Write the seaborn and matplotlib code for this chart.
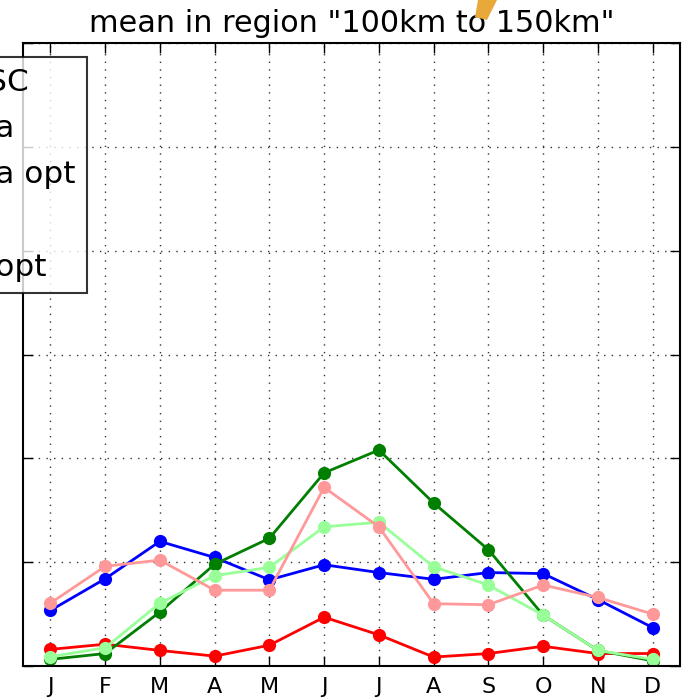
import matplotlib
matplotlib.use("Agg")
import matplotlib.pyplot as plt
from matplotlib.patches import Polygon
import numpy as np
import pandas as pd
import seaborn as sns

# month initials on the x axis
months = ["J", "F", "M", "A", "M", "J", "J", "A", "S", "O", "N", "D"]

# series (arbitrary units)
esc = [0.535, 0.84, 1.20, 1.045, 0.83, 0.975, 0.90, 0.835, 0.90, 0.89, 0.64, 0.37]
run_a = [0.16, 0.21, 0.15, 0.095, 0.20, 0.47, 0.30, 0.086, 0.12, 0.19, 0.12, 0.12]
run_a_opt = [0.064, 0.12, 0.52, 0.98, 1.23, 1.86, 2.08, 1.57, 1.12, 0.49, 0.15, 0.05]
run = [0.09, 0.175, 0.605, 0.87, 0.95, 1.34, 1.385, 0.955, 0.78, 0.49, 0.15, 0.064]
run_opt = [0.605, 0.96, 1.02, 0.73, 0.73, 1.72, 1.34, 0.60, 0.59, 0.78, 0.66, 0.50]

labels = ["H-ESC", "run a", "run a opt", "run", "run opt"]
colors = ["#0000ff", "#ff0000", "#007f00", "#99ff99", "#ff9999"]

frames = []
for lab, vals in zip(labels, [esc, run_a, run_a_opt, run, run_opt]):
    frames.append(pd.DataFrame({"month": np.arange(len(months)), "value": vals, "series": lab}))
df = pd.concat(frames, ignore_index=True)

sns.set_style("white")
plt.rcParams["font.family"] = ["DejaVu Sans"]
plt.rcParams["text.color"] = "black"
plt.rcParams["xtick.color"] = "black"
plt.rcParams["ytick.color"] = "black"

fig = plt.figure(figsize=(6.83, 6.98), dpi=100)
ax = fig.add_axes([23 / 683, 1 - 666 / 698, 657 / 683, 623 / 698])

sns.lineplot(data=df, x="month", y="value", hue="series", hue_order=labels,
             palette=dict(zip(labels, colors)), marker="o", markersize=9.5,
             markeredgewidth=0, linewidth=2, ax=ax)

ax.set_xlim(-0.5, 11.5)
ax.set_ylim(0, 6)
ax.set_xticks(range(len(months)))
ax.set_xticklabels(months, fontsize=16)
ax.set_yticks(range(0, 7))
ax.set_yticklabels([])
ax.set_xlabel("")
ax.set_ylabel("")
ax.tick_params(direction="in", length=7, width=1, top=True, right=True,
               bottom=True, left=True, pad=8)
ax.grid(True, linestyle=(0, (1, 4.5)), color="#333333", linewidth=1)
for s in ax.spines.values():
    s.set_color("black")
    s.set_linewidth(1.5)

ax.set_title('mean in region "100km to 150km"', fontsize=21.8, pad=8)

leg = ax.legend(loc="upper right", bbox_to_anchor=(87 / 683, 1 - 57 / 698),
                bbox_transform=fig.transFigure, borderaxespad=0, fontsize=22.4,
                labelspacing=0.55, borderpad=0.36, fancybox=False, frameon=True)
leg.get_frame().set_edgecolor("black")
leg.get_frame().set_linewidth(1.5)

# orange stroke poking in at the top of the figure
fig.patches.append(Polygon([(478 / 683, 1.0), (497 / 683, 1.0), (487 / 683, 1 - 20 / 698),
                            (475 / 683, 1 - 17 / 698)], closed=True,
                           transform=fig.transFigure, facecolor="#e8a83a",
                           edgecolor="none"))

fig.savefig("out.png", dpi=100)
